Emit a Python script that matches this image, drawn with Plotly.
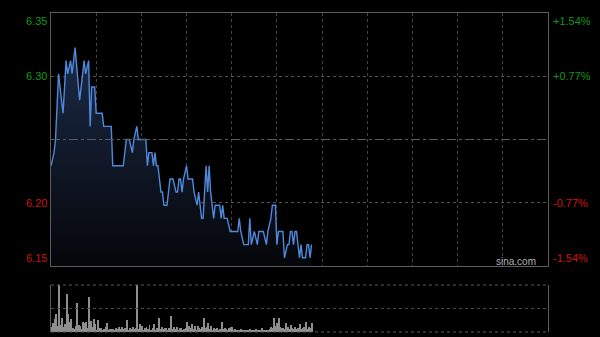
import plotly.graph_objects as go

# ---- data ----
prev_close = 6.25
pct_span = 0.0154
left_labels = ["6.35", "6.30", "6.20", "6.15"]
right_labels = ["+1.54%", "+0.77%", "-0.77%", "-1.54%"]
label_pcts = [0.0154, 0.0077, -0.0077, -0.0154]

minutes = [0, 2, 3, 4, 5, 8, 10, 11, 13, 14, 16, 19, 22, 23, 25, 26, 27, 29, 30, 34, 35,
           40, 41, 48, 50, 52, 54, 55, 57, 58, 63, 64, 65, 67, 68, 69, 70, 71, 73, 74,
           75, 77, 79, 81, 83, 84, 85, 86, 87, 88, 90, 91, 94, 95, 97, 98, 99, 100,
           101, 103, 104, 105, 106, 107, 108, 109, 112, 113, 114, 115, 117, 119, 124,
           125, 126, 128, 131, 132, 133, 135, 137, 138, 141, 143, 144, 146, 147, 149,
           150, 151, 154, 155, 157, 158, 159, 160, 161, 162, 163, 165, 166, 167, 169,
           170, 171, 172, 173]
prices = [6.23, 6.24, 6.25, 6.27, 6.30, 6.27, 6.31, 6.30, 6.31, 6.30, 6.32, 6.28, 6.31,
          6.30, 6.31, 6.26, 6.29, 6.29, 6.27, 6.27, 6.26,
          6.26, 6.23, 6.23, 6.25, 6.25, 6.24, 6.25, 6.26, 6.25, 6.25, 6.23, 6.24, 6.24,
          6.23, 6.24, 6.23, 6.23, 6.21, 6.21,
          6.20, 6.20, 6.22, 6.22, 6.21, 6.21, 6.22, 6.22, 6.21, 6.22, 6.23, 6.22, 6.22,
          6.21, 6.20, 6.21, 6.20, 6.19,
          6.19, 6.23, 6.21, 6.23, 6.21, 6.20, 6.19, 6.20, 6.20, 6.19, 6.20, 6.19, 6.19,
          6.18, 6.18,
          6.19, 6.18, 6.17, 6.17, 6.19, 6.17, 6.18, 6.17, 6.18, 6.18, 6.17, 6.18, 6.19,
          6.20, 6.20,
          6.17, 6.18, 6.18, 6.16, 6.17, 6.17, 6.18, 6.18, 6.17, 6.18, 6.18, 6.16, 6.17,
          6.16, 6.16,
          6.17, 6.17, 6.16, 6.17]

volume = [10, 20, 27, 38, 12, 100, 15, 29, 10, 18, 81, 38, 22, 27, 8, 6, 12, 62, 15, 13,
          6, 22, 20, 22, 8, 74, 24, 10, 27, 17, 5, 26, 8, 8, 4, 6, 10, 20, 4, 6,
          7, 6, 5, 8, 7, 10, 6, 10, 6, 8, 26, 5, 8, 6, 10, 7, 9, 100, 6, 17,
          13, 5, 8, 10, 6, 15, 5, 8, 17, 5, 9, 29, 6, 11, 6, 8, 8, 5, 9, 33,
          7, 10, 6, 10, 5, 8, 8, 5, 7, 9, 22, 12, 8, 18, 6, 13, 5, 13, 8, 6,
          10, 29, 8, 10, 20, 6, 12, 5, 8, 6, 8, 5, 7, 22, 6, 8, 6, 5, 9, 11,
          11, 5, 6, 4, 5, 4, 6, 3, 5, 4, 5, 4, 7, 3, 5, 4, 6, 3, 4, 3,
          8, 4, 3, 5, 4, 6, 10, 9, 29, 12, 20, 29, 10, 8, 8, 6, 20, 10, 7, 15,
          8, 6, 11, 7, 9, 17, 6, 8, 10, 21, 7, 10, 8, 20]
vol_minutes = list(range(len(volume)))

session_minutes = 330
grid_step = 30

# ---- figure ----
lo = prev_close * (1 - pct_span)
hi = prev_close * (1 + pct_span)
green = "#12961a"
red = "#cc1414"
grid = "#444444"
border = "#5c5c5c"
font = "Liberation Sans, Arial, sans-serif"

fig = go.Figure()
fig.add_trace(go.Scatter(
    x=minutes, y=prices, mode="lines",
    line=dict(color="#5089dc", width=1.4),
    fill="tozeroy",
    fillgradient=dict(type="vertical",
                      colorscale=[[0, "#050609"], [1, "#1c2b48"]],
                      start=lo, stop=6.32),
    xaxis="x", yaxis="y", hoverinfo="skip"))
fig.add_trace(go.Bar(
    x=vol_minutes, y=volume, width=0.65,
    marker=dict(color="#8e8e8e", line=dict(width=0)),
    xaxis="x2", yaxis="y2", hoverinfo="skip"))

main_bottom = 66 / 319
vol_top = 47 / 319

fig.update_layout(
    width=600, height=337,
    margin=dict(l=51, r=52, t=13, b=5),
    paper_bgcolor="black", plot_bgcolor="black",
    showlegend=False, bargap=0,
    font=dict(family=font, size=11),
    xaxis=dict(domain=[0, 1], range=[0, session_minutes],
               tickvals=list(range(grid_step, session_minutes, grid_step)),
               showticklabels=False, ticks="", showgrid=True, gridcolor=grid,
               griddash="dot", gridwidth=1, zeroline=False,
               showline=True, mirror=True, linecolor=border, linewidth=1,
               anchor="y"),
    yaxis=dict(domain=[main_bottom, 1], range=[lo, hi],
               tickvals=[prev_close * (1 - 0.0077), prev_close * (1 + 0.0077)],
               showticklabels=False, ticks="", showgrid=True, gridcolor="#555555",
               griddash="dot", zeroline=False,
               showline=True, mirror=True, linecolor=border, linewidth=1,
               anchor="x"),
    xaxis2=dict(domain=[0, 1], range=[-0.5, session_minutes], showticklabels=False,
                ticks="", showgrid=False, zeroline=False, showline=False,
                anchor="y2"),
    yaxis2=dict(domain=[0, vol_top], range=[0, 100], showticklabels=False,
                ticks="", showgrid=False, zeroline=False,
                showline=True, mirror=True, linecolor=border, linewidth=1,
                anchor="x2"),
)

shapes = [
    dict(type="line", xref="x domain", yref="y", x0=0, x1=1,
         y0=prev_close, y1=prev_close, line=dict(color="#5a5a5a", width=1, dash="dashdot")),
    dict(type="line", xref="x2 domain", yref="y2 domain", x0=0, x1=1, y0=1, y1=1,
         line=dict(color="#5a5a5a", width=1, dash="dot")),
    dict(type="line", xref="x2 domain", yref="y2 domain", x0=0, x1=1, y0=0.5, y1=0.5,
         line=dict(color="#4a4a4a", width=1, dash="dot")),
    dict(type="line", xref="x2 domain", yref="y2 domain", x0=0, x1=1, y0=0, y1=0,
         line=dict(color="#5a5a5a", width=1, dash="dot")),
]
fig.update_layout(shapes=shapes)

annotations = []
for i, (lt, rt, p) in enumerate(zip(left_labels, right_labels, label_pcts)):
    col = green if p > 0 else red
    yv = prev_close * (1 + p)
    if i == 0:
        ya = "top"
    elif i == len(label_pcts) - 1:
        ya = "bottom"
    else:
        ya = "middle"
    annotations.append(dict(text=lt, xref="paper", x=0, xanchor="right", xshift=-2,
                            yref="y", y=yv, yanchor=ya, showarrow=False,
                            font=dict(color=col, size=11, family=font)))
    annotations.append(dict(text=rt, xref="paper", x=1, xanchor="left", xshift=3,
                            yref="y", y=yv, yanchor=ya, showarrow=False,
                            font=dict(color=col, size=11, family=font)))
annotations.append(dict(text="sina.com", xref="x domain", x=1, xanchor="right", xshift=-10,
                        yref="y domain", y=0, yanchor="bottom", yshift=-3, showarrow=False,
                        font=dict(color="#b0b0b0", size=10, family=font)))
fig.update_layout(annotations=annotations)

fig.write_html("out.html")
